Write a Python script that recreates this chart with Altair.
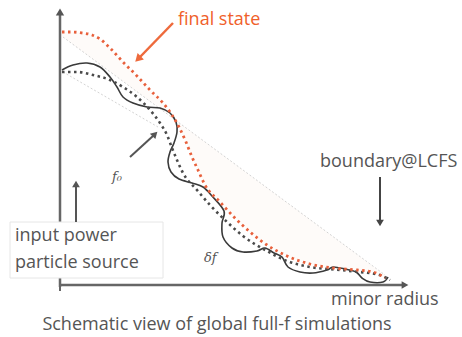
import altair as alt
import pandas as pd

# ---- schematic data (figure coordinates: x to the right, y downward) ----
final_x = [62, 72, 82, 92, 100, 110, 123, 137, 150, 163, 172, 179, 186, 192, 198, 205, 220, 233, 250, 267, 287, 310, 333, 357, 373, 385]
final_y = [32, 32, 33, 35, 39, 48, 62, 76, 90, 103, 115, 127, 142, 157, 170, 185, 202, 216, 232, 245, 256, 264, 268, 270, 272, 278]

f0_x = [62, 77, 93, 110, 123, 137, 150, 160, 167, 172, 177, 183, 197, 210, 227, 243, 267, 287, 310, 340, 360, 380, 390]
f0_y = [72, 72, 75, 80, 87, 97, 110, 123, 135, 148, 160, 173, 190, 205, 222, 236, 251, 261, 267, 270, 272, 275, 280]

full_x = [62, 73, 87, 100, 110, 117, 123, 133, 147, 160, 170, 176, 177, 174, 170, 168, 171, 179, 192, 203, 212, 224,
          222, 223, 232, 243, 257, 265, 274, 282, 288, 300, 313, 327, 333, 345, 356, 362, 370, 383, 388]
full_y = [70, 65, 63, 67, 77, 87, 97, 103, 107, 108, 113, 122, 132, 143, 152, 162, 172, 179, 183, 187, 196, 211,
          223, 237, 248, 252, 251, 248, 253, 257, 267, 272, 273, 270, 267, 269, 272, 278, 282, 282, 277]

upper_guide_x = [63, 385]
upper_guide_y = [37, 275]
lower_guide_x = [63, 158]
lower_guide_y = [72, 127]

vaxis_x = [60, 60]
vaxis_y = [287, 14]
haxis_x = [60, 402]
haxis_y = [285, 285]
htick_x = [60, 60]
htick_y = [279, 291]

final_arrow_x = [173, 140]
final_arrow_y = [23, 57]
f0_arrow_x = [130, 153]
f0_arrow_y = [157, 136]
source_arrow_x = [76, 76]
source_arrow_y = [222, 187]
lcfs_arrow_x = [380, 380]
lcfs_arrow_y = [177, 220]

box_x = [10]
box_x2 = [163]
box_y = [222]
box_y2 = [278]

label_text = ["boundary@LCFS", "input power", "particle source", "minor radius"]
label_x = [320, 15, 15, 331]
label_y = [162, 236, 263, 300]

W, H = 462, 337
X = alt.X("x:Q", scale=alt.Scale(domain=[0, W], range=[0, W]), axis=None)
Y = alt.Y("y:Q", scale=alt.Scale(domain=[0, H], range=[0, H]), axis=None)
X2 = alt.X2("x2:Q")
Y2 = alt.Y2("y2:Q")
FONT = "Open Sans"
FS = 18


def seg(xs, ys):
    return pd.DataFrame({"x": xs, "y": ys, "i": list(range(len(xs)))})


def line(xs, ys, color, width, dash=None, interp="linear"):
    kw = dict(color=color, strokeWidth=width, interpolate=interp)
    if dash:
        kw["strokeDash"] = dash
        kw["strokeCap"] = "butt"
    return alt.Chart(seg(xs, ys)).mark_line(**kw).encode(x=X, y=Y, order="i:Q")


def head(x, y, angle, color, size):
    return alt.Chart(pd.DataFrame({"x": [x], "y": [y]})).mark_point(
        shape="triangle-up", filled=True, opacity=1, color=color, size=size, angle=angle
    ).encode(x=X, y=Y)


# faint fill between final-state curve and the straight guide
fill = alt.Chart(seg(final_x, final_y)).transform_calculate(
    y2=f"{upper_guide_y[0]} + (datum.x - {upper_guide_x[0]}) * {(upper_guide_y[1]-upper_guide_y[0])/(upper_guide_x[1]-upper_guide_x[0])}"
).mark_area(color="#fbe3da", opacity=0.15, interpolate="monotone").encode(x=X, y=Y, y2=Y2)

layers = [
    fill,
    line(upper_guide_x, upper_guide_y, "#c8c8c8", 0.8, [2, 2]),
    line(lower_guide_x, lower_guide_y, "#c8c8c8", 0.8, [2, 2]),
    line(vaxis_x, vaxis_y, "#666666", 2.5),
    head(vaxis_x[1], vaxis_y[1] - 2, 0, "#555555", 70),
    line(haxis_x, haxis_y, "#666666", 2.5),
    head(haxis_x[1] + 3, haxis_y[1], 90, "#555555", 60),
    line(htick_x, htick_y, "#666666", 2),
    line(full_x, full_y, "#3a3a3a", 1.6, interp="cardinal"),
    line(f0_x, f0_y, "#4a4a4a", 2.6, [2.5, 3.5], interp="monotone"),
    line(final_x, final_y, "#e8603c", 2.8, [2.5, 3.5], interp="monotone"),
    line(final_arrow_x, final_arrow_y, "#ee6a3c", 2.5),
    head(final_arrow_x[1] - 2, final_arrow_y[1] + 2, 225, "#ee6a3c", 80),
    line(f0_arrow_x, f0_arrow_y, "#555555", 2),
    head(f0_arrow_x[1] + 2, f0_arrow_y[1] - 2, 45, "#555555", 60),
    line(lcfs_arrow_x, lcfs_arrow_y, "#444444", 2),
    head(lcfs_arrow_x[1], lcfs_arrow_y[1] + 3, 180, "#444444", 60),
    alt.Chart(pd.DataFrame({"x": box_x, "x2": box_x2, "y": box_y, "y2": box_y2})).mark_rect(
        fill="white", stroke="#e6e6e6", strokeWidth=1
    ).encode(x=X, x2=X2, y=Y, y2=Y2),
    line(source_arrow_x, source_arrow_y, "#555555", 2),
    head(source_arrow_x[1], source_arrow_y[1] - 3, 0, "#555555", 60),
    alt.Chart(pd.DataFrame({"x": label_x, "y": label_y, "t": label_text})).mark_text(
        align="left", baseline="middle", font=FONT, fontSize=FS, color="#555555"
    ).encode(x=X, y=Y, text="t:N"),
    alt.Chart(pd.DataFrame({"x": [178], "y": [20], "t": ["final state"]})).mark_text(
        align="left", baseline="middle", font=FONT, fontSize=FS, color="#f0602a", fontWeight=500
    ).encode(x=X, y=Y, text="t:N"),
    alt.Chart(pd.DataFrame({"x": [112], "y": [177], "t": ["f\u2080"]})).mark_text(
        align="left", baseline="middle", font="DejaVu Serif", fontStyle="italic", fontSize=13, color="#555555"
    ).encode(x=X, y=Y, text="t:N"),
    alt.Chart(pd.DataFrame({"x": [204], "y": [258], "t": ["\u03b4f"]})).mark_text(
        align="left", baseline="middle", font="DejaVu Serif", fontStyle="italic", fontSize=13, color="#555555"
    ).encode(x=X, y=Y, text="t:N"),
    alt.Chart(pd.DataFrame({"x": [217], "y": [325], "t": ["Schematic view of global full-f simulations"]})).mark_text(
        align="center", baseline="middle", font=FONT, fontSize=FS, color="#555555"
    ).encode(x=X, y=Y, text="t:N"),
]

chart = alt.layer(*layers).properties(
    width=W, height=H, padding=0, autosize=alt.AutoSizeParams(type="none"), background="white"
).configure_view(stroke=None)

chart.save("out.html", embed_options={"renderer": "svg", "actions": False})
